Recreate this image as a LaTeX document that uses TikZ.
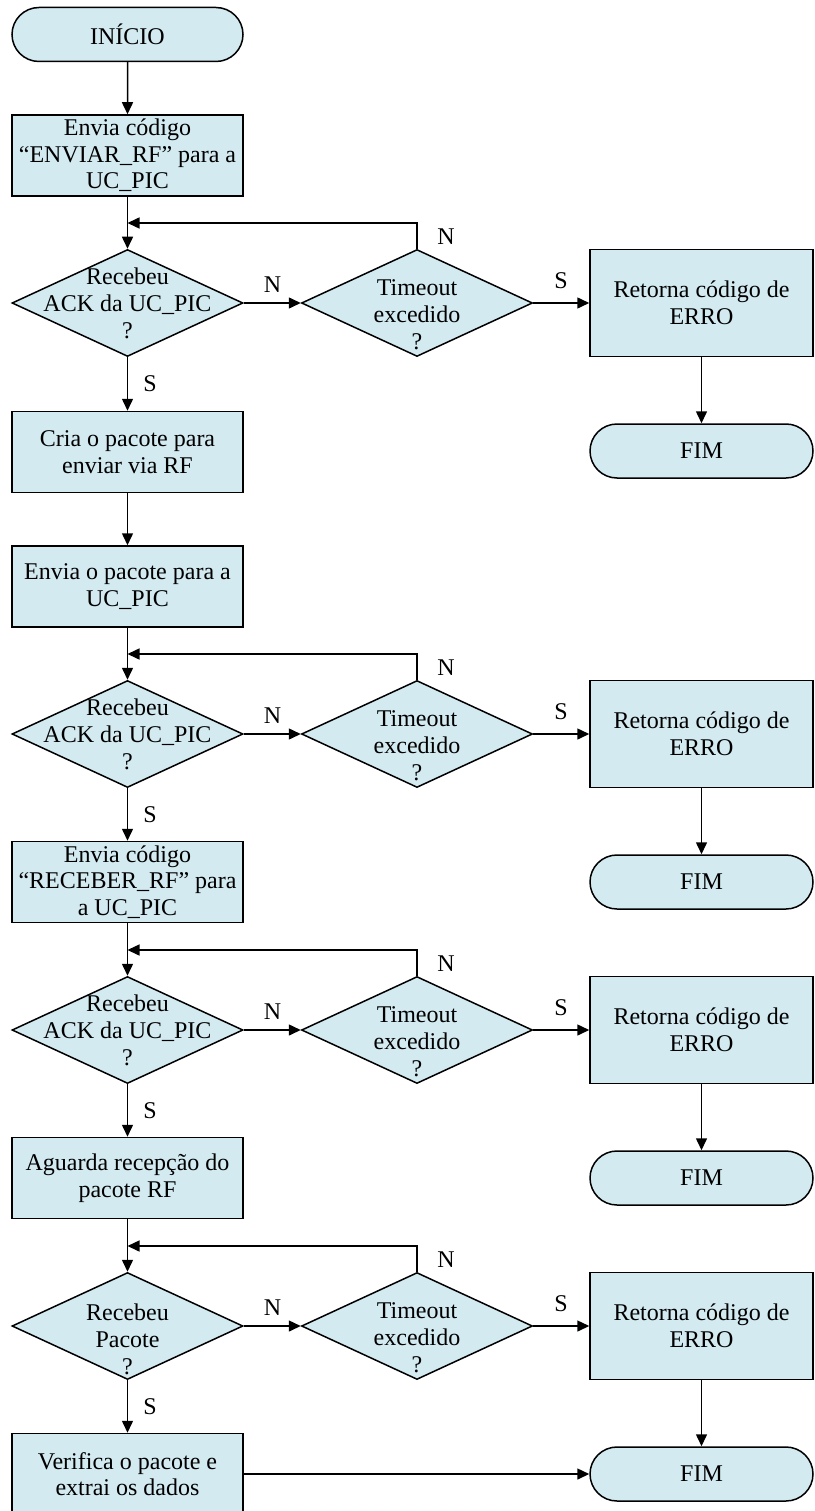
\documentclass[tikz,border=0pt]{standalone}
\usepackage{fontspec}
\setmainfont{Liberation Serif}
\usetikzlibrary{shapes.geometric,shapes.misc,arrows.meta}
\definecolor{flowblue}{RGB}{210,234,240}

\tikzset{
  base/.style={draw, fill=flowblue, line width=1.5pt, align=center, inner sep=0pt,
    font=\fontsize{24}{26.5}\selectfont},
  process/.style={base, rectangle, minimum width=231pt, minimum height=81pt},
  errbox/.style={base, rectangle, minimum width=223pt, minimum height=107pt},
  terminal/.style={base, rounded rectangle, minimum width=231pt, minimum height=54pt},
  decision/.style={base, diamond, minimum width=231pt, minimum height=107pt},
  txt/.style={align=center, inner sep=0pt, font=\fontsize{24}{27}\selectfont},
  flow/.style={line width=1.5pt, -{Triangle[length=12pt,width=11pt]}},
}

\begin{document}
\begin{tikzpicture}[x=1pt,y=-1pt]
\useasboundingbox (0,0) rectangle (814,1511);

% main column
\node[terminal] (inicio) at (127.5,34.5) {INÍCIO};
\node[process] (envRF) at (127.5,155.5) {Envia código\\“ENVIAR\_RF” para a\\UC\_PIC};
\node[process] (cria) at (127.5,452) {Cria o pacote para\\enviar via RF};
\node[process] (envPac) at (127.5,586.5) {Envia o pacote para a\\UC\_PIC};
\node[process] (envRec) at (127.5,882) {Envia código\\“RECEBER\_RF” para\\a UC\_PIC};
\node[process] (aguarda) at (127.5,1178) {Aguarda recepção do\\pacote RF};
\node[process] (verifica) at (127.5,1474) {Verifica o pacote e\\extrai os dados};

% wait loops: test, timeout, error exit
\foreach \k/\y/\q/\off in {1/303/{ACK da UC\_PIC}/0, 2/734/{ACK da UC\_PIC}/0,
                           3/1030/{ACK da UC\_PIC}/0, 4/1326/Pacote/13} {
  \node[decision] (rec\k) at (127.5,\y) {};
  \node[txt] (rec\k t) at (127.5,\y+\off) {Recebeu\\\q\\?};
  \node[decision] (tout\k) at (417,\y) {};
  \node[txt] (tout\k t) at (417,\y+12) {Timeout\\excedido\\?};
  \node[errbox] (erro\k) at (701.5,\y) {Retorna código de\\ERRO};
  \node[terminal, minimum width=223pt] (fim\k) at (701.5,\y+148) {FIM};
  \coordinate (loop\k) at (127.5,\y-80);
  \node[txt] (n\k) at (272.5,\y-18) {N};
  \node[txt] (s\k) at (561,\y-22) {S};
  \node[txt] (nt\k) at (446,\y-66) {N};
  \node[txt] (sr\k) at (150,\y+81) {S};
  \draw[flow] (rec\k) -- (tout\k);
  \draw[flow] (tout\k) -- (erro\k);
  \draw[flow] (tout\k.north) |- (loop\k);
  \draw[flow] (erro\k) -- (fim\k);
}

\foreach \a/\b in {inicio/envRF, cria/envPac}
  \draw[flow] (\a) -- (\b);
\foreach \a/\k in {envRF/1, envPac/2, envRec/3, aguarda/4}
  \draw[flow] (\a) -- (rec\k);
\foreach \k/\b in {1/cria, 2/envRec, 3/aguarda, 4/verifica}
  \draw[flow] (rec\k) -- (\b);
\draw[flow] (verifica.east) -- (verifica.east -| fim4.west);
\end{tikzpicture}
\end{document}
